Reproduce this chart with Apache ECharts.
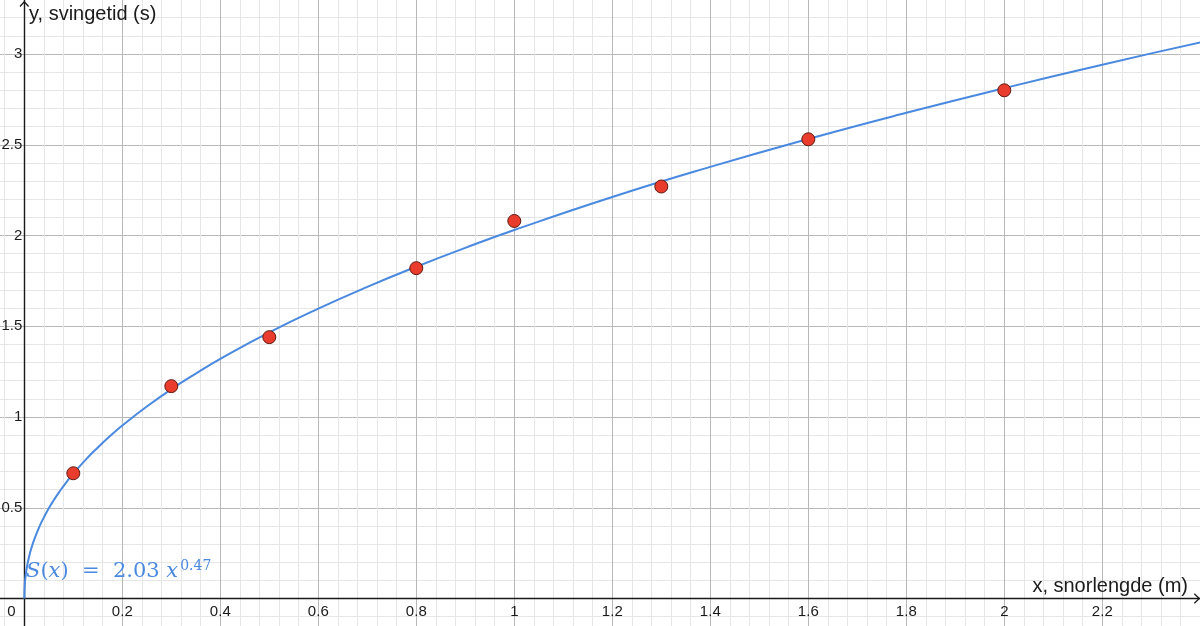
<!DOCTYPE html>
<html>
<head>
<meta charset="utf-8">
<title>svingetid</title>
<script src="https://cdn.jsdelivr.net/npm/echarts@6/dist/echarts.min.js"></script>
<style>
  html, body { margin: 0; padding: 0; background: #fff; }
  #chart { width: 1200px; height: 626px; }
</style>
</head>
<body>
<div id="chart"></div>
<script>
// maalte punkt: snorlengde (m) og svingetid (s)
var lengths = [0.1, 0.3, 0.5, 0.8, 1.0, 1.3, 1.6, 2.0];
var periods = [0.69, 1.17, 1.44, 1.82, 2.08, 2.27, 2.53, 2.80];

// regresjonskurve S(x)
var curveX = [0, 0.001, 0.002, 0.005, 0.01, 0.015, 0.02, 0.03, 0.04, 0.05, 0.06, 0.07, 0.08, 0.09, 0.1, 0.125, 0.15, 0.175, 0.2, 0.25, 0.3, 0.35, 0.4, 0.5, 0.6, 0.7, 0.8, 0.9, 1.0, 1.2, 1.4, 1.6, 1.8, 2.0, 2.2, 2.4, 2.6];
var curveY = [0, 0.079, 0.109, 0.168, 0.233, 0.282, 0.323, 0.391, 0.447, 0.497, 0.541, 0.582, 0.619, 0.655, 0.688, 0.764, 0.832, 0.895, 0.953, 1.058, 1.153, 1.239, 1.320, 1.466, 1.597, 1.717, 1.828, 1.932, 2.030, 2.212, 2.378, 2.532, 2.676, 2.812, 2.941, 3.064, 3.181];

var xName = 'x, snorlengde (m)';
var yName = 'y, svingetid (s)';

var points = lengths.map(function (x, i) { return [x, periods[i]]; });
var curve = curveX.map(function (x, i) { return [x, curveY[i]]; });

var blue = '#4a89e0';
var font = '"Liberation Sans", Arial, sans-serif';
var serif = '"DejaVu Serif", "Liberation Serif", serif';

var myChart = echarts.init(document.getElementById('chart'));

// grid 0: rutenett og akser over hele flaten, grid 1: tall og data (origo nede til venstre)
var option = {
    backgroundColor: '#ffffff',
    animation: false,
    grid: [
        { left: -73.7, right: -98.3, top: -36.75, bottom: -63.25, containLabel: false, outerBoundsMode: 'none' },
        { left: 24.3, right: -98.3, top: -36.75, bottom: 27.5, containLabel: false, outerBoundsMode: 'none' }
    ],
    xAxis: [
        {
            gridIndex: 0,
            type: 'value',
            min: -0.2,
            max: 2.6,
            interval: 0.2,
            axisLine: { show: true, onZero: true, lineStyle: { color: '#1a1a1a', width: 1.4 } },
            axisTick: { show: false },
            axisLabel: { show: false },
            minorTick: { show: false, splitNumber: 5 },
            splitLine: { show: true, lineStyle: { color: '#b8b8b8', width: 1 } },
            minorSplitLine: { show: true, lineStyle: { color: '#e6e6e6', width: 1 } }
        },
        {
            gridIndex: 1,
            type: 'value',
            min: 0,
            max: 2.6,
            interval: 0.2,
            axisLine: { show: false, onZero: false },
            axisTick: { show: false },
            splitLine: { show: false },
            axisLabel: {
                margin: 6,
                fontFamily: font,
                fontSize: 15,
                color: '#1a1a1a',
                showMinLabel: true,
                formatter: function (v) {
                    if (Math.abs(v) < 1e-9) return '{z|0}';
                    if (v > 2.3) return '';
                    return String(+v.toFixed(2));
                },
                rich: { z: { fontFamily: font, fontSize: 15, color: '#1a1a1a', padding: [0, 26, 0, 0] } }
            }
        }
    ],
    yAxis: [
        {
            gridIndex: 0,
            type: 'value',
            min: -0.5,
            max: 3.5,
            interval: 0.5,
            axisLine: { show: true, onZero: true, lineStyle: { color: '#1a1a1a', width: 1.4 } },
            axisTick: { show: false },
            axisLabel: { show: false },
            minorTick: { show: false, splitNumber: 5 },
            splitLine: { show: true, lineStyle: { color: '#b8b8b8', width: 1 } },
            minorSplitLine: { show: true, lineStyle: { color: '#e6e6e6', width: 1 } }
        },
        {
            gridIndex: 1,
            type: 'value',
            min: 0,
            max: 3.5,
            interval: 0.5,
            axisLine: { show: false, onZero: false },
            axisTick: { show: false },
            splitLine: { show: false },
            axisLabel: {
                margin: 2,
                fontFamily: font,
                fontSize: 15,
                color: '#1a1a1a',
                formatter: function (v) {
                    if (Math.abs(v) < 1e-9 || v > 3.2) return '';
                    return String(+v.toFixed(2));
                }
            }
        }
    ],
    graphic: [
        // pilspisser paa aksene
        { type: 'polyline', z: 10, shape: { points: [[20, 6.5], [24.3, 1.8], [28.6, 6.5]] },
          style: { stroke: '#1a1a1a', lineWidth: 1.3, fill: null } },
        { type: 'polyline', z: 10, shape: { points: [[1194.3, 593.8], [1199.3, 598.5], [1194.3, 603.2]] },
          style: { stroke: '#1a1a1a', lineWidth: 1.3, fill: null } },
        // aksenavn
        { type: 'text', left: 29, top: 4, z: 10,
          style: { text: yName, font: '20px ' + font, fill: '#1a1a1a' } },
        { type: 'text', right: 12, top: 576, z: 10,
          style: { text: xName, font: '20px ' + font, fill: '#1a1a1a' } },
        // funksjonsuttrykk
        { type: 'text', left: 26, top: 559, z: 10,
          style: {
              text: '{it|S}{n|(}{it|x}{n|)  =  2.03 }{it|x}{sup|0.47}',
              rich: {
                  it: { fontFamily: serif, fontStyle: 'italic', fontSize: 21, fill: blue },
                  n: { fontFamily: serif, fontSize: 21, fill: blue },
                  sup: { fontFamily: serif, fontSize: 14, fill: blue, padding: [0, 0, 12, 2] }
              }
          } }
    ],
    series: [
        {
            name: 'S(x)',
            type: 'line',
            xAxisIndex: 1,
            yAxisIndex: 1,
            data: curve,
            showSymbol: false,
            smooth: 0.5,
            clip: false,
            lineStyle: { color: blue, width: 2 },
            z: 3
        },
        {
            name: 'maalinger',
            type: 'scatter',
            xAxisIndex: 1,
            yAxisIndex: 1,
            data: points,
            symbolSize: 13,
            itemStyle: { color: '#ea3c2c', borderColor: '#5e1a12', borderWidth: 1, opacity: 1 },
            z: 5
        }
    ]
};

myChart.setOption(option);
</script>
</body>
</html>
